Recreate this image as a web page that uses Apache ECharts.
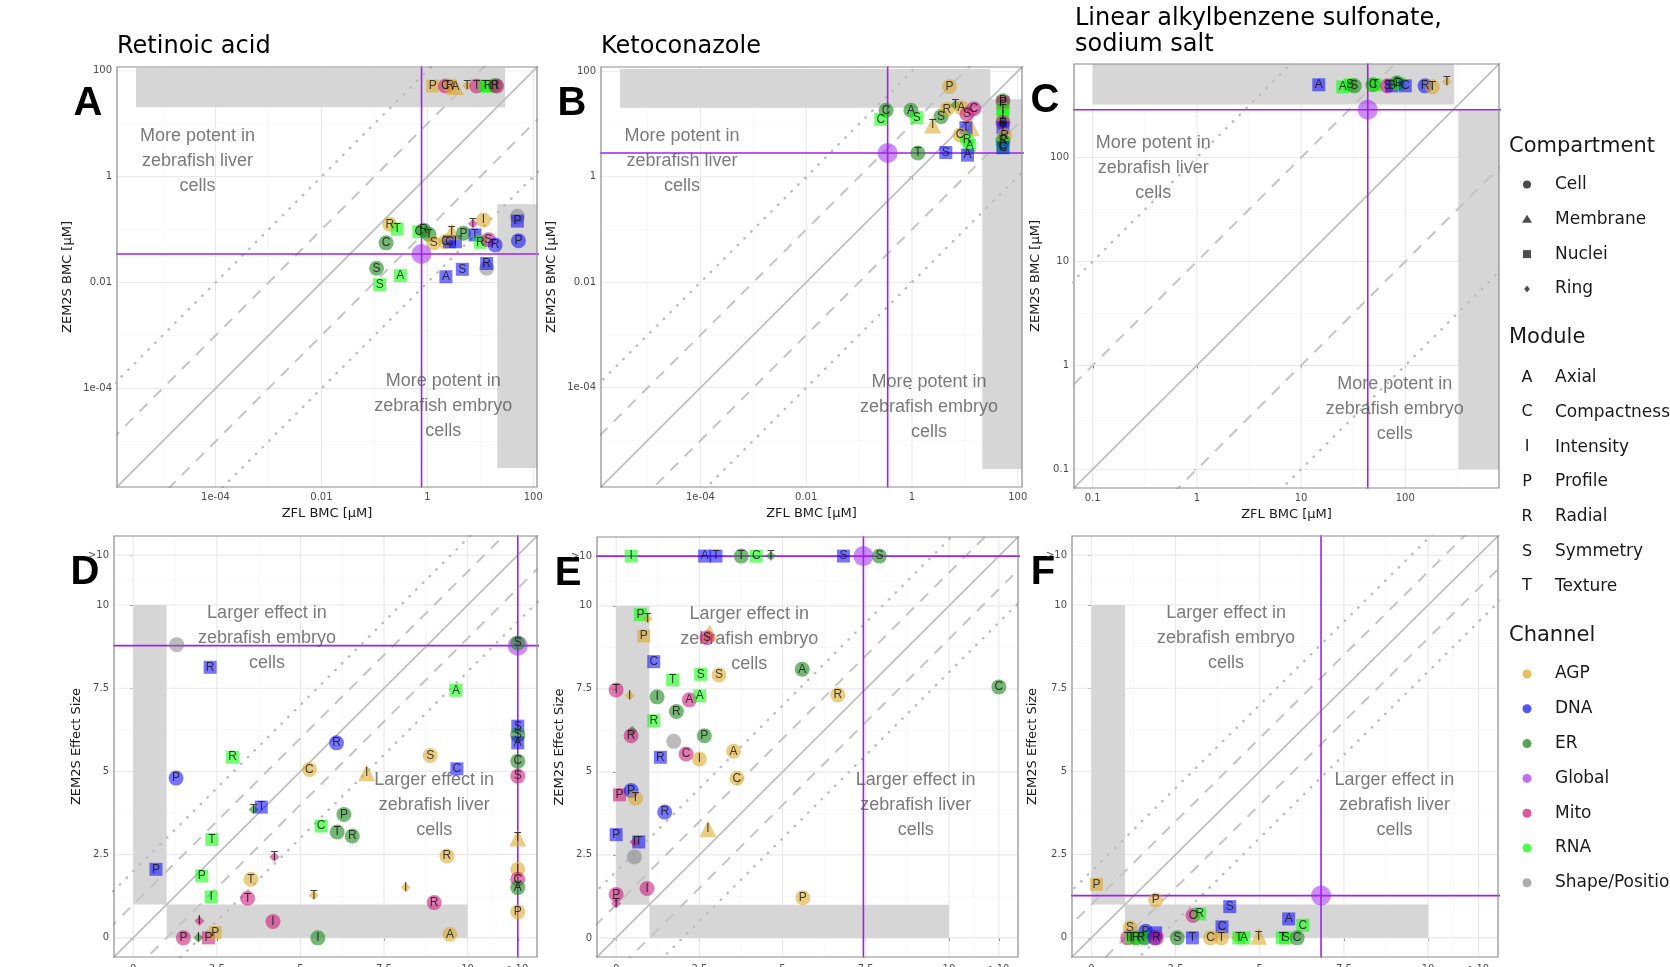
<!DOCTYPE html>
<html>
<head>
<meta charset="utf-8">
<script src="https://cdn.jsdelivr.net/npm/echarts@6/dist/echarts.min.js"></script>
<style>
  html, body { margin: 0; background: #fff; }
  #chart { width: 1670px; height: 967px; }
</style>
</head>
<body>
<div id="chart"></div>
<script>
// top row: log10 of BMC [µM] (x = ZFL, y = ZEM2S); bottom row: effect sizes (11.5 = ">10")
// rows: [x, y, compartment, module, channel]
var pointsA = [
  [0.10, 1.71, 'Nuclei', 'P', 'AGP'], [0.34, 1.71, 'Cell', 'C', 'Mito'], [0.43, 1.71, 'Cell', 'R', 'AGP'],
  [0.53, 1.70, 'Membrane', 'A', 'AGP'], [0.75, 1.71, 'Ring', 'T', 'AGP'], [0.93, 1.71, 'Cell', 'T', 'Mito'],
  [1.09, 1.71, 'Nuclei', 'T', 'RNA'], [1.15, 1.71, 'Nuclei', 'R', 'RNA'], [1.28, 1.72, 'Cell', 'R', 'ER'],
  [1.31, 1.71, 'Cell', 'I', 'Mito'],
  [-0.71, -0.90, 'Cell', 'R', 'AGP'], [-0.57, -0.99, 'Nuclei', 'T', 'RNA'], [-0.78, -1.25, 'Cell', 'C', 'ER'],
  [-0.16, -1.04, 'Nuclei', 'C', 'RNA'], [-0.07, -1.01, 'Cell', 'R', 'ER'], [0.03, -1.09, 'Cell', 'T', 'ER'],
  [0.12, -1.25, 'Cell', 'S', 'AGP'], [0.34, -1.23, 'Cell', 'C', 'AGP'], [0.42, -1.23, 'Nuclei', 'C', 'DNA'],
  [0.53, -1.23, 'Nuclei', 'I', 'DNA'], [0.46, -1.04, 'Membrane', 'T', 'AGP'], [0.68, -1.07, 'Cell', 'P', 'ER'],
  [0.90, -1.10, 'Nuclei', 'T', 'DNA'], [0.86, -0.89, 'Ring', 'T', 'Mito'], [1.06, -0.82, 'Cell', 'I', 'AGP'],
  [1.00, -1.24, 'Nuclei', 'R', 'RNA'], [1.15, -1.19, 'Cell', 'S', 'Mito'], [1.28, -1.29, 'Cell', 'R', 'DNA'],
  [1.70, -0.75, 'Cell', '', 'Shape/Position'], [1.70, -0.84, 'Nuclei', 'P', 'DNA'], [1.72, -1.21, 'Cell', 'P', 'DNA'],
  [-0.96, -1.73, 'Cell', 'S', 'ER'], [-0.90, -2.04, 'Nuclei', 'S', 'RNA'], [-0.51, -1.87, 'Nuclei', 'A', 'RNA'],
  [0.35, -1.89, 'Nuclei', 'A', 'DNA'], [0.66, -1.75, 'Nuclei', 'S', 'DNA'],
  [1.12, -1.73, 'Cell', '', 'Shape/Position'], [1.12, -1.64, 'Nuclei', 'R', 'DNA'],
  [-0.11, -1.46, 'Cell', '', 'Global']
];
var pointsB = [
  [0.71, 1.71, 'Cell', 'P', 'AGP'], [-0.49, 1.26, 'Cell', 'C', 'ER'], [-0.59, 1.09, 'Nuclei', 'C', 'RNA'],
  [-0.02, 1.26, 'Cell', 'A', 'ER'], [0.09, 1.12, 'Nuclei', 'S', 'RNA'], [0.39, 0.98, 'Membrane', 'T', 'AGP'],
  [0.55, 1.14, 'Cell', 'S', 'ER'], [0.66, 1.28, 'Cell', 'R', 'AGP'], [0.82, 1.36, 'Ring', 'T', 'ER'],
  [0.93, 1.31, 'Cell', 'A', 'AGP'], [1.04, 1.19, 'Cell', 'S', 'Mito'], [1.17, 1.29, 'Cell', 'C', 'Mito'],
  [1.12, 0.93, 'Membrane', '', 'AGP'], [1.02, 0.93, 'Nuclei', 'T', 'DNA'], [0.91, 0.79, 'Cell', 'C', 'AGP'],
  [1.04, 0.70, 'Cell', 'R', 'RNA'], [1.09, 0.59, 'Nuclei', 'A', 'RNA'], [0.11, 0.45, 'Cell', 'T', 'ER'],
  [0.64, 0.46, 'Nuclei', 'S', 'DNA'], [1.05, 0.41, 'Nuclei', 'A', 'DNA'],
  [1.72, 1.44, 'Cell', 'P', 'ER'], [1.72, 1.40, 'Nuclei', 'P', 'Mito'], [1.72, 1.28, 'Nuclei', 'T', 'RNA'],
  [1.72, 1.16, 'Nuclei', 'I', 'RNA'], [1.72, 1.03, 'Cell', 'S', 'Mito'], [1.72, 1.01, 'Ring', 'R', 'DNA'],
  [1.72, 0.93, 'Nuclei', 'T', 'DNA'], [1.75, 0.78, 'Cell', 'R', 'AGP'], [1.72, 0.68, 'Cell', 'R', 'ER'],
  [1.72, 0.58, 'Nuclei', 'C', 'RNA'], [1.72, 0.55, 'Nuclei', 'C', 'DNA'],
  [-0.46, 0.45, 'Cell', '', 'Global']
];
var pointsC = [
  [1.17, 2.70, 'Nuclei', 'A', 'DNA'], [1.40, 2.68, 'Nuclei', 'A', 'RNA'], [1.47, 2.70, 'Nuclei', 'S', 'RNA'],
  [1.51, 2.69, 'Cell', 'S', 'ER'], [1.69, 2.70, 'Cell', 'C', 'ER'], [1.71, 2.70, 'Nuclei', 'T', 'RNA'],
  [1.83, 2.69, 'Cell', 'S', 'Mito'], [1.87, 2.69, 'Nuclei', 'S', 'DNA'], [1.92, 2.72, 'Cell', 'C', 'ER'],
  [1.94, 2.71, 'Nuclei', 'R', 'RNA'], [2.00, 2.69, 'Nuclei', 'C', 'DNA'], [2.19, 2.69, 'Cell', 'R', 'DNA'],
  [2.26, 2.68, 'Cell', 'T', 'AGP'], [2.40, 2.73, 'Ring', 'T', 'AGP'],
  [1.64, 2.46, 'Cell', '', 'Global']
];
var pointsD = [
  [1.3, 8.81, 'Cell', '', 'Shape/Position'], [2.3, 8.13, 'Nuclei', 'R', 'DNA'], [9.65, 7.44, 'Nuclei', 'A', 'RNA'],
  [11.5, 8.78, 'Cell', '', 'Global'], [11.5, 8.86, 'Cell', 'S', 'ER'], [11.5, 6.36, 'Nuclei', 'S', 'DNA'],
  [11.5, 6.1, 'Cell', 'S', 'ER'], [11.5, 5.86, 'Nuclei', 'A', 'DNA'], [11.5, 5.31, 'Cell', 'C', 'ER'],
  [11.5, 4.86, 'Cell', 'S', 'Mito'], [11.5, 3.0, 'Membrane', 'T', 'AGP'], [11.5, 2.06, 'Cell', 'I', 'AGP'],
  [11.5, 1.76, 'Cell', 'C', 'Mito'], [11.5, 1.51, 'Cell', 'A', 'ER'], [11.5, 0.78, 'Cell', 'P', 'AGP'],
  [6.08, 5.86, 'Cell', 'R', 'DNA'], [2.97, 5.43, 'Nuclei', 'R', 'RNA'], [5.27, 5.06, 'Cell', 'C', 'AGP'],
  [6.98, 4.96, 'Membrane', 'I', 'AGP'], [8.88, 5.48, 'Cell', 'S', 'AGP'], [9.68, 5.08, 'Nuclei', 'C', 'DNA'],
  [1.28, 4.80, 'Cell', 'P', 'DNA'], [3.6, 3.86, 'Ring', 'T', 'ER'], [3.83, 3.93, 'Nuclei', 'T', 'DNA'],
  [6.3, 3.71, 'Cell', 'P', 'ER'], [5.62, 3.36, 'Nuclei', 'C', 'RNA'], [6.1, 3.18, 'Cell', 'T', 'ER'],
  [6.55, 3.06, 'Cell', 'R', 'ER'], [2.35, 2.96, 'Nuclei', 'T', 'RNA'], [4.22, 2.43, 'Ring', 'T', 'Mito'],
  [9.38, 2.46, 'Cell', 'R', 'AGP'], [0.68, 2.06, 'Nuclei', 'P', 'DNA'], [2.05, 1.86, 'Nuclei', 'P', 'RNA'],
  [3.52, 1.76, 'Cell', 'T', 'AGP'], [8.15, 1.51, 'Ring', 'I', 'AGP'], [5.4, 1.28, 'Ring', 'T', 'AGP'],
  [2.33, 1.23, 'Nuclei', 'I', 'RNA'], [3.42, 1.19, 'Cell', 'T', 'Mito'], [9.0, 1.06, 'Cell', 'R', 'Mito'],
  [1.98, 0.51, 'Ring', 'I', 'Mito'], [4.18, 0.49, 'Cell', 'I', 'Mito'], [9.47, 0.11, 'Cell', 'A', 'AGP'],
  [1.5, 0, 'Cell', 'P', 'Mito'], [1.95, 0, 'Ring', 'I', 'ER'], [2.25, 0, 'Nuclei', 'P', 'Mito'],
  [2.45, 0.16, 'Nuclei', 'P', 'AGP'], [5.52, 0, 'Cell', 'I', 'ER']
];
var pointsE = [
  [0.45, 11.5, 'Nuclei', 'I', 'RNA'], [2.66, 11.5, 'Nuclei', 'A', 'DNA'], [3.0, 11.5, 'Nuclei', 'T', 'DNA'],
  [3.76, 11.5, 'Cell', 'T', 'ER'], [4.21, 11.5, 'Nuclei', 'C', 'RNA'], [4.65, 11.5, 'Ring', 'T', 'ER'],
  [6.83, 11.5, 'Nuclei', 'S', 'DNA'], [7.43, 11.5, 'Cell', '', 'Global'], [7.91, 11.5, 'Cell', 'S', 'ER'],
  [0.73, 9.74, 'Nuclei', 'P', 'RNA'], [0.95, 9.61, 'Ring', 'T', 'AGP'], [0.83, 9.09, 'Nuclei', 'P', 'AGP'],
  [2.81, 9.19, 'Membrane', '', 'AGP'], [2.73, 9.04, 'Cell', 'S', 'Mito'], [1.13, 8.32, 'Nuclei', 'C', 'DNA'],
  [1.70, 7.77, 'Nuclei', 'T', 'RNA'], [2.54, 7.94, 'Nuclei', 'S', 'RNA'], [3.09, 7.92, 'Cell', 'S', 'AGP'],
  [5.59, 8.09, 'Cell', 'A', 'ER'], [0.0, 7.47, 'Cell', 'T', 'Mito'], [0.41, 7.29, 'Ring', 'I', 'AGP'],
  [1.23, 7.26, 'Cell', 'I', 'ER'], [2.2, 7.17, 'Cell', 'A', 'Mito'], [2.51, 7.29, 'Nuclei', 'A', 'RNA'],
  [6.66, 7.32, 'Cell', 'R', 'AGP'], [11.5, 7.56, 'Cell', 'C', 'ER'], [1.81, 6.82, 'Cell', 'R', 'ER'],
  [1.13, 6.54, 'Nuclei', 'R', 'RNA'], [0.48, 6.24, 'Ring', '', 'ER'], [0.45, 6.09, 'Cell', 'R', 'Mito'],
  [2.65, 6.09, 'Cell', 'P', 'ER'], [1.73, 5.92, 'Cell', '', 'Shape/Position'], [1.33, 5.44, 'Nuclei', 'R', 'DNA'],
  [2.1, 5.54, 'Cell', 'C', 'Mito'], [2.5, 5.39, 'Cell', 'I', 'AGP'], [3.53, 5.62, 'Cell', 'A', 'AGP'],
  [3.63, 4.81, 'Cell', 'C', 'AGP'], [0.1, 4.31, 'Nuclei', 'P', 'Mito'], [0.45, 4.44, 'Cell', 'P', 'DNA'],
  [0.58, 4.21, 'Cell', 'T', 'AGP'], [1.46, 3.79, 'Cell', 'R', 'DNA'], [2.76, 3.29, 'Membrane', 'I', 'AGP'],
  [0.0, 3.11, 'Nuclei', 'P', 'DNA'], [0.68, 2.89, 'Nuclei', 'T', 'DNA'], [0.55, 2.89, 'Ring', 'I', 'Mito'],
  [0.55, 2.44, 'Cell', '', 'Shape/Position'], [0.93, 1.49, 'Cell', 'I', 'Mito'], [0.0, 1.31, 'Cell', 'P', 'Mito'],
  [0.0, 1.04, 'Ring', 'T', 'Mito'], [5.61, 1.21, 'Cell', 'P', 'AGP']
];
var pointsF = [
  [0.15, 1.61, 'Nuclei', 'P', 'AGP'], [1.91, 1.14, 'Cell', 'P', 'AGP'], [6.82, 1.27, 'Cell', '', 'Global'],
  [4.11, 0.94, 'Nuclei', 'S', 'DNA'], [3.02, 0.67, 'Cell', 'C', 'Mito'], [3.22, 0.72, 'Nuclei', 'R', 'RNA'],
  [5.86, 0.57, 'Nuclei', 'A', 'DNA'], [6.28, 0.38, 'Nuclei', 'C', 'RNA'], [3.88, 0.33, 'Nuclei', 'C', 'DNA'],
  [1.15, 0.30, 'Cell', 'S', 'AGP'], [1.91, 0.15, 'Nuclei', '', 'DNA'], [1.61, 0.20, 'Cell', 'P', 'DNA'],
  [1.08, 0, 'Cell', 'T', 'Mito'], [1.18, 0, 'Nuclei', 'T', 'RNA'], [1.33, 0, 'Cell', 'R', 'ER'],
  [1.48, 0, 'Nuclei', 'R', 'RNA'], [1.58, 0, 'Cell', '', 'ER'], [1.88, 0, 'Cell', '', 'DNA'],
  [1.93, 0, 'Cell', 'R', 'Mito'], [2.55, 0, 'Cell', 'S', 'ER'], [3.0, 0, 'Nuclei', 'T', 'DNA'],
  [3.54, 0, 'Cell', 'C', 'AGP'], [3.86, 0, 'Cell', 'T', 'AGP'], [4.3, 0, 'Ring', '', 'AGP'],
  [4.38, 0, 'Nuclei', 'T', 'RNA'], [4.53, 0, 'Nuclei', 'A', 'RNA'], [4.97, 0.05, 'Membrane', 'T', 'AGP'],
  [5.67, 0, 'Nuclei', 'T', 'RNA'], [5.77, 0, 'Nuclei', 'S', 'RNA'], [6.11, 0, 'Cell', 'C', 'ER']
];

// grey "not active" zones, [x1, y1, x2, y2]
var bandsA = [[-5.5, 1.31, 1.47, 2.05], [1.32, -5.5, 2.2, -0.52]];
var bandsB = [[-5.52, 1.31, 1.48, 2.04], [1.33, -5.54, 2.2, 1.47]];
var bandsC = [[-1.0, 2.51, 2.47, 2.9], [2.51, -1.0, 3.0, 2.46]];
var bandsEffect = [[0, 1, 1, 10], [1, 0, 10, 1]];

var bmcTicks = [-4, -2, 0, 2];
var bmcTickLabels = ['1e-04', '0.01', '1', '100'];
var bmcMinor = [-5, -3, -1, 1];
var lasTicks = [-1, 0, 1, 2];
var lasTickLabels = ['0.1', '1', '10', '100'];
var lasMinor = [-0.5, 0.5, 1.5, 2.5];
var effectTicks = [0, 2.5, 5, 7.5, 10, 11.5];
var effectTickLabels = ['0', '2.5', '5', '7.5', '10', '>10'];
var effectMinor = [1.25, 3.75, 6.25, 8.75, 10.75];

var diagonalOffsets = [0, 1, -1, 2, -2];

var compartments = ['Cell', 'Membrane', 'Nuclei', 'Ring'];
var modules = ['A', 'C', 'I', 'P', 'R', 'S', 'T'];
var moduleNames = ['Axial', 'Compactness', 'Intensity', 'Profile', 'Radial', 'Symmetry', 'Texture'];
var channels = ['AGP', 'DNA', 'ER', 'Global', 'Mito', 'RNA', 'Shape/Position'];

var potentNotes = ['More potent in\nzebrafish liver\ncells', 'More potent in\nzebrafish embryo\ncells'];
var effectNotes = ['Larger effect in\nzebrafish embryo\ncells', 'Larger effect in\nzebrafish liver\ncells'];

// ---- styles ----
var channelColor = {
  'AGP': 'rgba(218,165,32,0.7)', 'DNA': 'rgba(0,0,255,0.68)', 'ER': 'rgba(34,139,34,0.78)',
  'Global': 'rgba(160,32,240,0.65)', 'Mito': 'rgba(205,16,118,0.7)', 'RNA': 'rgba(0,255,0,0.7)',
  'Shape/Position': 'rgba(127,127,127,0.65)'
};
var symbolOf = { Cell: 'circle', Membrane: 'triangle', Nuclei: 'rect', Ring: 'diamond' };
var sizeOf = { Cell: 15, Membrane: 17, Nuclei: 13, Ring: 10 };
var FONT = 'DejaVu Sans';
var NOTE_FONT = 'Liberation Sans';

var panels = [
  { letter: 'A', pts: pointsA, bands: bandsA, ticks: bmcTicks, labels: bmcTickLabels, minor: bmcMinor,
    range: [-5.86, 2.07], grid: { left: 117, top: 67, width: 420, height: 420 },
    notes: potentNotes, notePos: [[-4.34, 0.3], [0.3, -4.34]], yName: 'ZEM2S BMC [µM]', xName: 'ZFL BMC [µM]', yGap: 43, xMargin: 5 },
  { letter: 'B', pts: pointsB, bands: bandsB, ticks: bmcTicks, labels: bmcTickLabels, minor: bmcMinor,
    range: [-5.88, 2.08], grid: { left: 601, top: 67, width: 421, height: 420 },
    notes: potentNotes, notePos: [[-4.35, 0.3], [0.32, -4.36]], yName: 'ZEM2S BMC [µM]', xName: 'ZFL BMC [µM]', yGap: 43, xMargin: 5 },
  { letter: 'C', pts: pointsC, bands: bandsC, ticks: lasTicks, labels: lasTickLabels, minor: lasMinor,
    range: [-1.18, 2.9], grid: { left: 1074, top: 64, width: 425, height: 424 },
    notes: potentNotes, notePos: [[-0.42, 1.9], [1.9, -0.42]], yName: 'ZEM2S BMC [µM]', xName: 'ZFL BMC [µM]', yGap: 32, xMargin: 5 },
  { letter: 'D', pts: pointsD, bands: bandsEffect, ticks: effectTicks, labels: effectTickLabels, minor: effectMinor,
    range: [-0.575, 12.075], grid: { left: 114, top: 536, width: 423, height: 421 },
    notes: effectNotes, notePos: [[4, 9], [9, 4]], yName: 'ZEM2S Effect Size', xName: '', yGap: 31, xMargin: 7 },
  { letter: 'E', pts: pointsE, bands: bandsEffect, ticks: effectTicks, labels: effectTickLabels, minor: effectMinor,
    range: [-0.575, 12.075], grid: { left: 597, top: 537, width: 421, height: 420 },
    notes: effectNotes, notePos: [[4, 9], [9, 4]], yName: 'ZEM2S Effect Size', xName: '', yGap: 31, xMargin: 7 },
  { letter: 'F', pts: pointsF, bands: bandsEffect, ticks: effectTicks, labels: effectTickLabels, minor: effectMinor,
    range: [-0.575, 12.075], grid: { left: 1072, top: 536, width: 426, height: 421 },
    notes: effectNotes, notePos: [[4, 9], [9, 4]], yName: 'ZEM2S Effect Size', xName: '', yGap: 33, xMargin: 7 }
];

function renderGridLine(params, api) {
  var cs = params.coordSys;
  var v = api.value(0), horiz = api.value(1) === 1, major = api.value(2) === 1;
  var style = { stroke: major ? '#e9e9e9' : '#f4f4f4', lineWidth: major ? 1.1 : 0.7 };
  if (horiz) {
    var y = api.coord([0, v])[1];
    return { type: 'line', shape: { x1: cs.x, y1: y, x2: cs.x + cs.width, y2: y }, style: style };
  }
  var x = api.coord([v, 0])[0];
  return { type: 'line', shape: { x1: x, y1: cs.y, x2: x, y2: cs.y + cs.height }, style: style };
}

function renderBand(params, api) {
  var p1 = api.coord([api.value(0), api.value(3)]);
  var p2 = api.coord([api.value(2), api.value(1)]);
  var rect = echarts.graphic.clipRectByRect(
    { x: p1[0], y: p1[1], width: p2[0] - p1[0], height: p2[1] - p1[1] }, params.coordSys);
  return rect && { type: 'rect', shape: rect, style: { fill: '#d6d6d6' } };
}

function renderBorder(params) {
  var cs = params.coordSys;
  return { type: 'rect', shape: { x: cs.x, y: cs.y, width: cs.width, height: cs.height },
    style: { fill: null, stroke: '#8c8c8c', lineWidth: 1.2 } };
}

function toItem(p) {
  var isGlobal = p[4] === 'Global';
  return {
    value: [p[0], p[1]],
    symbol: symbolOf[p[2]],
    symbolSize: isGlobal ? 20 : sizeOf[p[2]],
    itemStyle: { color: channelColor[p[4]] },
    label: { show: p[3] !== '', formatter: p[3] }
  };
}

var option = { animation: false, grid: [], xAxis: [], yAxis: [], series: [], graphic: [] };

panels.forEach(function (pn, i) {
  option.grid.push(Object.assign({ show: false, outerBoundsMode: 'none', containLabel: false }, pn.grid));
  var axisCommon = function (name, gap, margin) {
    return {
      gridIndex: i, type: 'value', min: pn.range[0], max: pn.range[1],
      axisLine: { show: false }, splitLine: { show: false },
      axisTick: { show: true, customValues: pn.ticks, length: 3, lineStyle: { color: '#444' } },
      axisLabel: {
        customValues: pn.ticks, fontSize: 10, color: '#4d4d4d', fontFamily: FONT, margin: margin,
        formatter: function (v) { var k = pn.ticks.indexOf(v); return k < 0 ? '' : pn.labels[k]; }
      },
      name: name, nameLocation: 'middle', nameGap: gap,
      nameTextStyle: { fontSize: 13, color: '#1a1a1a', fontFamily: FONT }
    };
  };
  option.xAxis.push(axisCommon(pn.xName, 20, pn.xMargin));
  option.yAxis.push(axisCommon(pn.yName, pn.yGap, 5));

  var gridData = [];
  pn.ticks.forEach(function (t) { gridData.push([t, 0, 1], [t, 1, 1]); });
  pn.minor.forEach(function (t) { gridData.push([t, 0, 0], [t, 1, 0]); });
  var base = { xAxisIndex: i, yAxisIndex: i, silent: true };

  option.series.push(Object.assign({ type: 'custom', z: 1, data: gridData, renderItem: renderGridLine }, base));
  option.series.push(Object.assign({ type: 'custom', z: 2, data: pn.bands, renderItem: renderBand }, base));

  diagonalOffsets.forEach(function (off) {
    var a = Math.abs(off);
    var ls = a === 0 ? { color: '#bdbdbd', width: 1.6, type: 'solid' }
      : a === 1 ? { color: '#c4c4c4', width: 2, type: [11, 9] }
      : { color: '#bcbcbc', width: 2.4, type: [0.5, 9], cap: 'round' };
    option.series.push(Object.assign({
      type: 'line', z: 3, symbol: 'none', clip: true, lineStyle: ls,
      data: [[-30, -30 + off], [30, 30 + off]]
    }, base));
  });

  var g = pn.pts.filter(function (p) { return p[4] === 'Global'; })[0];
  var purple = { color: '#a020f0', width: 1.6 };
  option.series.push(Object.assign({ type: 'line', z: 4, symbol: 'none', clip: true, lineStyle: purple,
    data: [[g[0], -30], [g[0], 30]] }, base));
  option.series.push(Object.assign({ type: 'line', z: 4, symbol: 'none', clip: true, lineStyle: purple,
    data: [[-30, g[1]], [30, g[1]]] }, base));

  option.series.push(Object.assign({
    type: 'scatter', z: 5, symbolSize: 1, itemStyle: { color: 'rgba(0,0,0,0)' },
    label: { show: true, position: 'inside', fontSize: 18, lineHeight: 25, color: '#595959', fontFamily: NOTE_FONT },
    data: pn.notePos.map(function (q, k) { return { value: q, label: { formatter: pn.notes[k] } }; })
  }, base));

  option.series.push(Object.assign({
    type: 'scatter', z: 6,
    label: { show: true, position: 'inside', color: '#111', fontSize: 12, fontFamily: NOTE_FONT },
    emphasis: { disabled: true },
    data: pn.pts.map(toItem)
  }, base));

  option.series.push(Object.assign({ type: 'custom', z: 7, data: [[0, 0]], renderItem: renderBorder }, base));

  option.graphic.push({
    type: 'text', x: pn.grid.left - 29, y: pn.grid.top + 37,
    style: { text: pn.letter, fontSize: 40, fontWeight: 'bold', fontFamily: 'Liberation Sans', fill: '#000',
      textAlign: 'center', textVerticalAlign: 'middle', align: 'center', verticalAlign: 'middle' }
  });
});

// panel titles
function titleText(text, x, y) {
  return { type: 'text', x: x, y: y, style: { text: text, fontSize: 24, fontFamily: FONT, fill: '#000',
    textAlign: 'left', textVerticalAlign: 'middle', align: 'left', verticalAlign: 'middle' } };
}
option.graphic.push(titleText('Retinoic acid', 117, 47));
option.graphic.push(titleText('Ketoconazole', 601, 47));
option.graphic.push(titleText('Linear alkylbenzene sulfonate,', 1075, 19));
option.graphic.push(titleText('sodium salt', 1075, 45));

// legend
function legText(text, x, y, size) {
  return { type: 'text', x: x, y: y, style: { text: text, fontSize: size, fontFamily: FONT, fill: '#1a1a1a',
    textAlign: 'left', textVerticalAlign: 'middle', align: 'left', verticalAlign: 'middle' } };
}
var LX = 1509, SX = 1527, TX = 1555, STEP = 34.8;
var legendInk = 'rgba(0,0,0,0.7)';
option.graphic.push(legText('Compartment', LX, 146.5, 21));
compartments.forEach(function (c, k) {
  var y = 184.5 + k * STEP, shape;
  if (c === 'Cell') shape = { type: 'circle', shape: { cx: SX, cy: y, r: 4 } };
  else if (c === 'Membrane') shape = { type: 'polygon', shape: { points: [[SX, y - 4.5], [SX + 5, y + 3.5], [SX - 5, y + 3.5]] } };
  else if (c === 'Nuclei') shape = { type: 'rect', shape: { x: SX - 4, y: y - 4, width: 8, height: 8 } };
  else shape = { type: 'polygon', shape: { points: [[SX, y - 3.5], [SX + 2.8, y], [SX, y + 3.5], [SX - 2.8, y]] } };
  shape.style = { fill: legendInk };
  option.graphic.push(shape);
  option.graphic.push(legText(c, TX, y, 17));
});
option.graphic.push(legText('Module', LX, 338, 21));
modules.forEach(function (m, k) {
  var y = 377.5 + k * STEP;
  option.graphic.push({ type: 'text', x: SX, y: y, style: { text: m, fontSize: 16, fontFamily: FONT, fill: '#1a1a1a',
    textAlign: 'center', textVerticalAlign: 'middle', align: 'center', verticalAlign: 'middle' } });
  option.graphic.push(legText(moduleNames[k], TX, y, 17));
});
option.graphic.push(legText('Channel', LX, 635.5, 21));
channels.forEach(function (c, k) {
  var y = 674 + k * STEP;
  option.graphic.push({ type: 'circle', shape: { cx: SX, cy: y, r: 4.5 }, style: { fill: channelColor[c] } });
  option.graphic.push(legText(c, TX, y, 17));
});

var chart = echarts.init(document.getElementById('chart'));
chart.setOption(option);
</script>
</body>
</html>
